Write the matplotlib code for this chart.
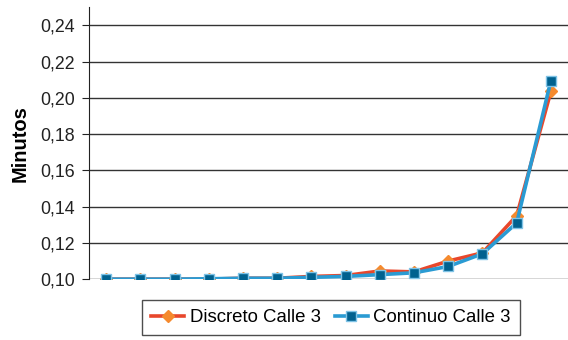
import matplotlib
matplotlib.use('Agg')
import matplotlib.pyplot as plt
from matplotlib.ticker import FuncFormatter

# data
x = list(range(1, 15))
discreto = [0.100, 0.100, 0.100, 0.100, 0.1005, 0.1005, 0.1015, 0.102,
            0.1045, 0.104, 0.110, 0.1145, 0.135, 0.2035]
continuo = [0.100, 0.100, 0.100, 0.1002, 0.1005, 0.1005, 0.101, 0.1015,
            0.1025, 0.1035, 0.107, 0.114, 0.131, 0.2095]
yticks = [0.10, 0.12, 0.14, 0.16, 0.18, 0.20, 0.22, 0.24]

plt.rcParams['font.family'] = ['Liberation Sans', 'DejaVu Sans']

fig = plt.figure(figsize=(5.68, 3.4), dpi=100)
ax = fig.add_axes([0.157, 0.179, 0.843, 0.80])

ax.plot(x, discreto, color='#E8472B', lw=2.6, marker='D', markersize=6,
        markerfacecolor='#F58A2E', markeredgecolor='#F58A2E',
        label='Discreto Calle 3', zorder=3)
ax.plot(x, continuo, color='#2A9BD3', lw=2.6, marker='s', markersize=7,
        markerfacecolor='#00618F', markeredgecolor='#7FC3E6', markeredgewidth=1,
        label='Continuo Calle 3', zorder=4)

ax.set_xlim(0.5, 14.5)
ax.set_ylim(0.10, 0.25)
ax.set_yticks(yticks)
ax.yaxis.set_major_formatter(FuncFormatter(lambda v, p: f'{v:.2f}'.replace('.', ',')))
ax.tick_params(axis='y', labelsize=12.8, length=5, color='#222222', colors='#222222', pad=5)
ax.tick_params(axis='x', bottom=False, labelbottom=False)
ax.grid(axis='y', color='#333333', lw=1)
ax.set_axisbelow(True)
for s in ['top', 'right', 'bottom']:
    ax.spines[s].set_visible(False)
ax.spines['left'].set_color('#222222')
ax.set_ylabel('Minutos', fontsize=14.5, fontweight='bold', labelpad=8)

leg = fig.legend(loc='center', bbox_to_anchor=(0.583, 0.066), ncol=2,
                 fontsize=13.4, frameon=True, fancybox=False, handlelength=1.77,
                 columnspacing=0.75, handletextpad=0.3, borderpad=0.5,
                 borderaxespad=0)
leg.get_frame().set_edgecolor('#222222')
leg.get_frame().set_linewidth(1)

fig.savefig('out.png', dpi=100)
